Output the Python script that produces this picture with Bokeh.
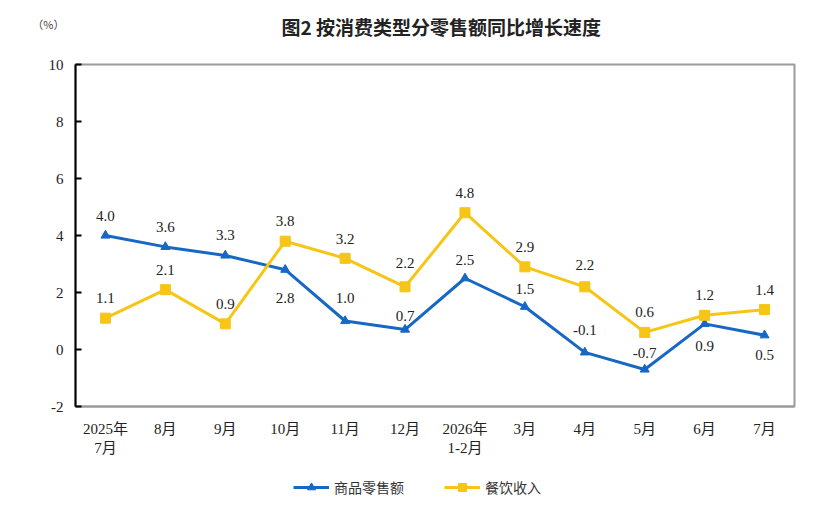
from bokeh.plotting import figure
from bokeh.layouts import column
from bokeh.models import (Range1d, FixedTicker, Legend, LegendItem, ColumnDataSource,
                          CustomJSTickFormatter, Label)
from bokeh.embed import file_html
from bokeh.resources import INLINE

months = ["2025年\n7月", "8月", "9月", "10月", "11月", "12月", "2026年\n1-2月", "3月", "4月", "5月", "6月", "7月"]
goods = [4.0, 3.6, 3.3, 2.8, 1.0, 0.7, 2.5, 1.5, -0.1, -0.7, 0.9, 0.5]
catering = [1.1, 2.1, 0.9, 3.8, 3.2, 2.2, 4.8, 2.9, 2.2, 0.6, 1.2, 1.4]
y_ticks = [-2, 0, 2, 4, 6, 8, 10]
series_names = ["商品零售额", "餐饮收入"]
title_text = "图2  按消费类型分零售额同比增长速度"
unit_text = "（%）"

# label vertical offsets (px, positive = downward)
goods_off = [-20, -20, -20, 28, -23, -14, -18, -18, -22, -16, 22, 20]
cat_off = [-20, -20, -20, -20, -19, -24, -20, -20, -22, -20, -20, -20]

BLUE = "#1768c4"
YELLOW = "#f6c515"
SERIF = "'Liberation Serif', 'Times New Roman', 'Noto Sans CJK SC'"
CJK = "'Noto Sans CJK SC'"
W = 814

# header strip: unit text (as a left-axis label) and title
head = figure(width=W, height=48, x_range=Range1d(0, 1), y_range=Range1d(0, 48),
              output_backend="svg", toolbar_location=None, min_border=0, outline_line_color=None)
head.xaxis.visible = False
head.grid.visible = False
head.yaxis.ticker = FixedTicker(ticks=[25])
head.yaxis.major_label_overrides = {25: unit_text}
head.yaxis.axis_line_color = None
head.yaxis.major_tick_line_color = None
head.yaxis.minor_tick_line_color = None
head.yaxis.major_label_standoff = 5
head.yaxis.major_label_text_font = CJK
head.yaxis.major_label_text_font_size = "11px"
head.yaxis.major_label_text_color = "#444444"
head.add_layout(Label(x=368, y=22, x_units="screen", y_units="screen", text=title_text,
                      text_font=CJK, text_font_size="19px", text_font_style="bold", text_color="#222222",
                      text_align="center", text_baseline="middle"))

p = figure(frame_width=719, frame_height=342, x_range=months, y_range=Range1d(-2, 10),
           output_backend="svg", toolbar_location=None,
           min_border_left=75, min_border_right=20, min_border_top=16, min_border_bottom=56)

p.xgrid.visible = False
p.ygrid.visible = False
p.outline_line_color = "#9a9a9a"
p.outline_line_width = 2

p.yaxis.ticker = FixedTicker(ticks=y_ticks)
p.yaxis.formatter = CustomJSTickFormatter(code="return tick.toString();")
p.yaxis.axis_line_color = "black"
p.yaxis.axis_line_width = 2
p.yaxis.major_tick_in = 6
p.yaxis.major_tick_out = 0
p.yaxis.major_tick_line_width = 2
p.yaxis.minor_tick_line_color = None
p.yaxis.major_label_text_font = SERIF
p.yaxis.major_label_text_font_size = "15px"
p.yaxis.major_label_text_color = "#222222"
p.yaxis.major_label_standoff = 12

p.xaxis.axis_line_color = "#9a9a9a"
p.xaxis.axis_line_width = 2
p.xaxis.major_tick_line_color = None
p.xaxis.minor_tick_line_color = None
p.xaxis.major_label_text_font = SERIF
p.xaxis.major_label_text_font_size = "15px"
p.xaxis.major_label_text_color = "#222222"
p.xaxis.major_label_standoff = 8

gsrc = ColumnDataSource(dict(x=months, y=goods, t=["%.1f" % v for v in goods], off=goods_off))
csrc = ColumnDataSource(dict(x=months, y=catering, t=["%.1f" % v for v in catering], off=cat_off))

p.line("x", "y", source=gsrc, line_color=BLUE, line_width=3)
p.scatter("x", "y", source=gsrc, marker="triangle", size=9, fill_color=BLUE, line_color=BLUE)
p.line("x", "y", source=csrc, line_color=YELLOW, line_width=3)
p.scatter("x", "y", source=csrc, marker="square", size=10, fill_color=YELLOW, line_color=YELLOW)

for src in (gsrc, csrc):
    p.text("x", "y", text="t", source=src, y_offset="off", text_align="center", text_baseline="middle",
           text_font={"value": SERIF}, text_font_size="15px", text_color="#222222")

# legend strip below the chart (series drawn out of its view, only the legend shows)
leg = figure(width=W, height=50, x_range=months, y_range=Range1d(100, 101),
             output_backend="svg", toolbar_location=None, min_border=0, outline_line_color=None)
leg.axis.visible = False
leg.grid.visible = False
lg1 = leg.line("x", "y", source=gsrc, line_color=BLUE, line_width=3)
lg2 = leg.scatter("x", "y", source=gsrc, marker="triangle", size=8, fill_color=BLUE, line_color=BLUE)
lc1 = leg.line("x", "y", source=csrc, line_color=YELLOW, line_width=3)
lc2 = leg.scatter("x", "y", source=csrc, marker="square", size=9, fill_color=YELLOW, line_color=YELLOW)
legend = Legend(items=[LegendItem(label=series_names[0], renderers=[lg1, lg2]),
                       LegendItem(label=series_names[1], renderers=[lc1, lc2])],
                orientation="horizontal", location=(218, 15), border_line_color=None,
                background_fill_alpha=0,
                label_text_font=CJK, label_text_font_size="14px", label_text_color="#333333",
                glyph_width=36, spacing=40, margin=0, padding=0)
leg.add_layout(legend)

open("out.html", "w").write(file_html(column(head, p, leg, spacing=0), INLINE))
